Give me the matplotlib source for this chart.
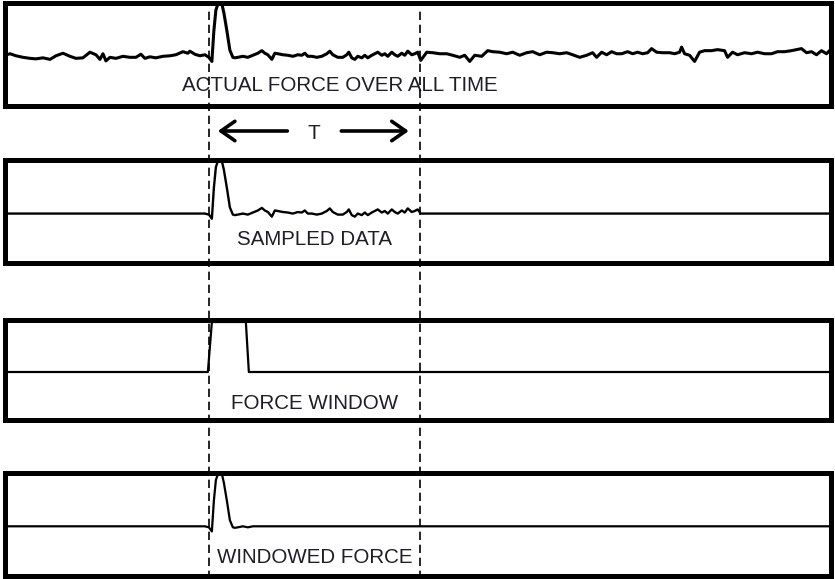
#!/usr/bin/env python3
"""
Force windowing illustration: actual force, sampled record, force window
and the windowed force, stacked in four framed strips.
"""

import matplotlib.pyplot as plt
import numpy as np
from matplotlib.lines import Line2D
from matplotlib.patches import FancyArrowPatch
from matplotlib.transforms import blended_transform_factory

plt.rcParams["font.family"] = ["Liberation Sans", "DejaVu Sans"]

# --- Data ----------------------------------------------------------------
# time in ms, force normalised to the impact peak
TIME = [
    0, 5, 11, 18, 25, 31, 38, 45, 51, 58, 65, 71, 78, 85, 91, 95, 98, 101,
    105, 111, 118, 125, 131, 136, 140, 145, 151, 158, 165, 171, 178, 183,
    185, 190, 195, 200, 204, 207, 209, 211, 213, 215, 217, 219, 222, 225,
    228, 230, 233, 238, 243, 248, 253, 257, 260, 263, 267, 270, 273, 278,
    283, 288, 293, 297, 300, 303, 307, 312, 317, 322, 325, 328, 333, 338,
    342, 344, 347, 350, 353, 357, 360, 363, 367, 370, 373, 377, 380, 383,
    387, 390, 393, 397, 400, 403, 407, 410, 413, 416, 422, 428, 435, 442,
    448, 455, 460, 465, 470, 477, 483, 488, 495, 502, 508, 515, 522, 528,
    535, 542, 548, 555, 562, 568, 575, 582, 588, 592, 597, 602, 607, 612,
    617, 623, 628, 633, 638, 643, 647, 652, 658, 665, 670, 675, 677, 680,
    685, 690, 695, 700, 707, 713, 720, 723, 728, 733, 740, 747, 753, 760,
    767, 773, 780, 787, 797, 802, 807, 812, 817, 822, 825,
]
FORCE = [
    0.02, 0.05, 0.01, -0.02, -0.04, -0.05, -0.03, -0.06, 0.01, 0.06, 0.00,
    -0.04, -0.03, 0.08, 0.03, -0.06, 0.05, -0.09, -0.02, -0.04, 0.00, -0.02,
    -0.02, 0.04, -0.04, -0.01, -0.03, 0.00, 0.01, 0.03, 0.09, 0.06, 0.10,
    0.04, 0.01, 0.03, -0.02, -0.10, 0.50, 0.90, 1.02, 1.04, 1.02, 0.85,
    0.50, 0.12, -0.02, -0.03, -0.02, 0.00, -0.02, 0.02, 0.06, 0.11, 0.06,
    0.03, -0.06, 0.06, 0.05, 0.03, 0.02, 0.00, 0.03, 0.02, 0.06, 0.00, 0.00,
    -0.02, 0.00, 0.05, 0.10, 0.03, -0.02, -0.02, 0.03, 0.08, -0.03, -0.06,
    0.00, -0.03, 0.02, -0.03, 0.02, 0.05, 0.08, 0.02, 0.05, 0.00, 0.08,
    0.03, 0.00, 0.06, 0.02, 0.10, 0.03, 0.05, 0.08, -0.08, 0.08, 0.07, 0.05,
    0.05, 0.02, -0.02, 0.02, -0.10, 0.02, 0.00, 0.11, 0.09, 0.08, 0.05,
    0.08, 0.02, 0.07, 0.09, 0.03, 0.08, 0.07, 0.05, 0.07, 0.03, -0.02, 0.02,
    0.07, -0.02, 0.08, 0.03, 0.09, 0.05, 0.05, 0.09, 0.05, 0.08, 0.05, 0.07,
    0.15, 0.08, 0.07, 0.07, 0.05, 0.08, 0.18, 0.05, 0.02, -0.10, 0.08, 0.11,
    0.11, 0.13, 0.11, -0.02, 0.08, 0.03, 0.07, 0.05, 0.08, 0.05, 0.05, 0.09,
    0.09, 0.11, 0.15, 0.07, 0.09, 0.03, 0.11, 0.05, 0.11,
]

# record length T
T_START = 204
T_END = 415

# rectangular force window
WINDOW_TIME = [0, 203, 207, 241, 244, 826]
WINDOW_GAIN = [0, 0, 1, 1, 0, 0]
WINDOW_ON = 203
WINDOW_OFF = 244

LABELS = [
    "ACTUAL FORCE OVER ALL TIME",
    "SAMPLED DATA",
    "FORCE WINDOW",
    "WINDOWED FORCE",
]

# --- Layout ----------------------------------------------------------------
W_PX, H_PX = 835, 579
LEFT_PX, RIGHT_PX = 5, 830.5
# (top, bottom) of each strip in pixels
STRIPS_PX = [(3, 105.5), (160, 263), (320, 420), (473, 575.5)]
# label centre (ms) and baseline height (axes fraction)
LABEL_POS = [(335, 0.14), (310, 0.175), (310, 0.11), (310, 0.12)]
TEXT_COLOR = "#1e1e28"


def strip_axes(fig, top, bottom):
    ax = fig.add_axes([
        LEFT_PX / W_PX,
        1 - bottom / H_PX,
        (RIGHT_PX - LEFT_PX) / W_PX,
        (bottom - top) / H_PX,
    ])
    ax.set_xlim(0, 826)
    ax.set_ylim(-0.96, 1.04)
    ax.set_xticks([])
    ax.set_yticks([])
    for sp in ax.spines.values():
        sp.set_linewidth(3.6)
        sp.set_color("black")
    return ax


def main():
    t = np.array(TIME, dtype=float)
    force = np.array(FORCE)

    sampled = np.where((t >= T_START) & (t <= T_END), force, 0.0)
    windowed = np.where((t >= WINDOW_ON) & (t <= WINDOW_OFF), sampled, 0.0)

    fig = plt.figure(figsize=(W_PX / 100, H_PX / 100), dpi=100)
    axes = [strip_axes(fig, top, bottom) for top, bottom in STRIPS_PX]

    axes[0].plot(t, force, color="black", lw=2.2)
    axes[1].plot(t, sampled, color="black", lw=1.7)
    axes[2].plot(WINDOW_TIME, WINDOW_GAIN, color="black", lw=1.6)
    axes[3].plot(t, windowed, color="black", lw=1.6)

    for ax, label, (xc, yb) in zip(axes, LABELS, LABEL_POS):
        ax.text(xc, yb, label, transform=ax.get_xaxis_transform(),
                ha="center", va="baseline", fontsize=14.8, color=TEXT_COLOR)

    # dashed markers for the record length, running through all strips
    trans = blended_transform_factory(axes[0].transData, fig.transFigure)
    for x in (T_START, T_END):
        fig.add_artist(Line2D([x, x], [0.0, 0.985], transform=trans,
                              color="black", lw=1.2,
                              linestyle=(0, (5.0, 2.8))))

    # "<-- T -->" between the first two strips
    mid = (T_START + T_END) / 2
    arrow_y = 1 - 131 / H_PX
    for tail, tip in ((mid - 27, T_START + 9), (mid + 27, T_END - 11)):
        fig.add_artist(FancyArrowPatch(
            (tail, arrow_y), (tip, arrow_y), transform=trans,
            arrowstyle="->,head_length=1.0,head_width=0.7",
            mutation_scale=10, lw=2.6, color="black",
            shrinkA=0, shrinkB=0,
        ))
    fig.text(mid, 1 - 139 / H_PX, "T", transform=trans, ha="center",
             va="baseline", fontsize=15, color=TEXT_COLOR)

    fig.savefig("out.png", dpi=100, facecolor="white")
    plt.close(fig)


if __name__ == "__main__":
    main()
